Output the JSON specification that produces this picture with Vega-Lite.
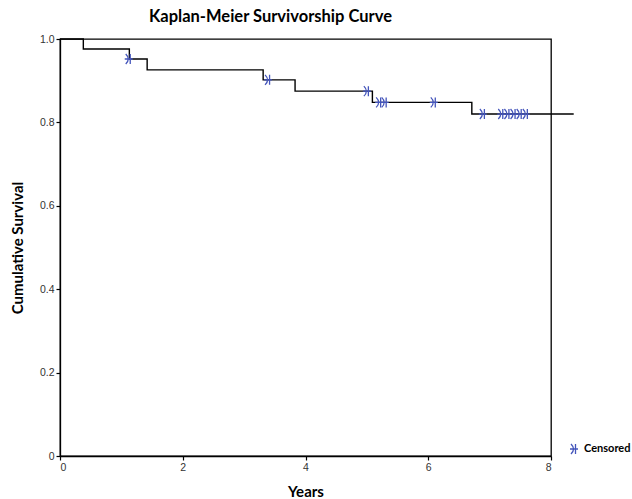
{
  "$schema": "https://vega.github.io/schema/vega-lite/v6.json",
  "width": 491,
  "height": 417,
  "autosize": "none",
  "padding": {"left": 60, "top": 39, "right": 81, "bottom": 43},
  "background": "white",
  "title": {
    "text": "Kaplan-Meier Survivorship Curve",
    "font": "Lato",
    "fontSize": 16.5,
    "fontWeight": "bold",
    "color": "black",
    "anchor": "middle",
    "dx": -35,
    "offset": 9
  },
  "config": {
    "view": {"stroke": "black", "strokeWidth": 1.3},
    "axis": {
      "grid": false,
      "domainColor": "black",
      "domainWidth": 1.3,
      "tickColor": "black",
      "tickSize": 4,
      "tickWidth": 1.2,
      "labelFont": "Liberation Sans",
      "labelFontSize": 10.5,
      "labelColor": "#333",
      "titleFont": "Lato",
      "titleFontSize": 15,
      "titleFontWeight": "bold",
      "titleColor": "black"
    }
  },
  "datasets": {
    "curve": [
      {"t": 0, "s": 1.0},
      {"t": 0.38, "s": 0.976},
      {"t": 1.13, "s": 0.952},
      {"t": 1.42, "s": 0.926},
      {"t": 3.31, "s": 0.902},
      {"t": 3.83, "s": 0.875},
      {"t": 5.09, "s": 0.848},
      {"t": 6.71, "s": 0.820},
      {"t": 8.37, "s": 0.820}
    ],
    "censored": [
      {"t": 1.12, "s": 0.952, "k": "Censored"},
      {"t": 3.39, "s": 0.902, "k": "Censored"},
      {"t": 5.0, "s": 0.875, "k": "Censored"},
      {"t": 5.2, "s": 0.848, "k": "Censored"},
      {"t": 5.29, "s": 0.848, "k": "Censored"},
      {"t": 6.09, "s": 0.848, "k": "Censored"},
      {"t": 6.89, "s": 0.820, "k": "Censored"},
      {"t": 7.19, "s": 0.820, "k": "Censored"},
      {"t": 7.29, "s": 0.820, "k": "Censored"},
      {"t": 7.39, "s": 0.820, "k": "Censored"},
      {"t": 7.49, "s": 0.820, "k": "Censored"},
      {"t": 7.59, "s": 0.820, "k": "Censored"}
    ]
  },
  "layer": [
    {
      "data": {"name": "curve"},
      "mark": {"type": "line", "interpolate": "step-after", "color": "black", "strokeWidth": 1.4, "clip": false},
      "encoding": {
        "x": {
          "field": "t", "type": "quantitative",
          "scale": {"domain": [0, 8], "nice": false},
          "axis": {"title": "Years", "values": [0, 2, 4, 6, 8], "format": "d", "titlePadding": 12}
        },
        "y": {
          "field": "s", "type": "quantitative",
          "scale": {"domain": [0, 1], "nice": false},
          "axis": {
            "title": "Cumulative Survival",
            "values": [0, 0.2, 0.4, 0.6, 0.8, 1.0],
            "labelExpr": "datum.value == 0 ? '0' : format(datum.value, '.1f')",
            "titlePadding": 14
          }
        }
      }
    },
    {
      "data": {"name": "censored"},
      "mark": {
        "type": "point",
        "shape": "M-0.6,-1 Q0.4,0 -0.6,1 M0.3,-1 L0.3,1 M-0.8,0 L0.8,0",
        "filled": false,
        "strokeWidth": 1.3,
        "size": 100,
        "opacity": 1
      },
      "encoding": {
        "x": {"field": "t", "type": "quantitative"},
        "y": {"field": "s", "type": "quantitative"},
        "color": {
          "field": "k", "type": "nominal",
          "scale": {"range": ["#4455BB"]},
          "legend": {
            "title": null,
            "orient": "none",
            "legendX": 508,
            "legendY": 404,
            "labelFont": "Lato",
            "labelFontSize": 11,
            "labelFontWeight": "bold",
            "labelColor": "black",
            "symbolSize": 100,
            "symbolStrokeWidth": 1.3
          }
        }
      }
    }
  ]
}
